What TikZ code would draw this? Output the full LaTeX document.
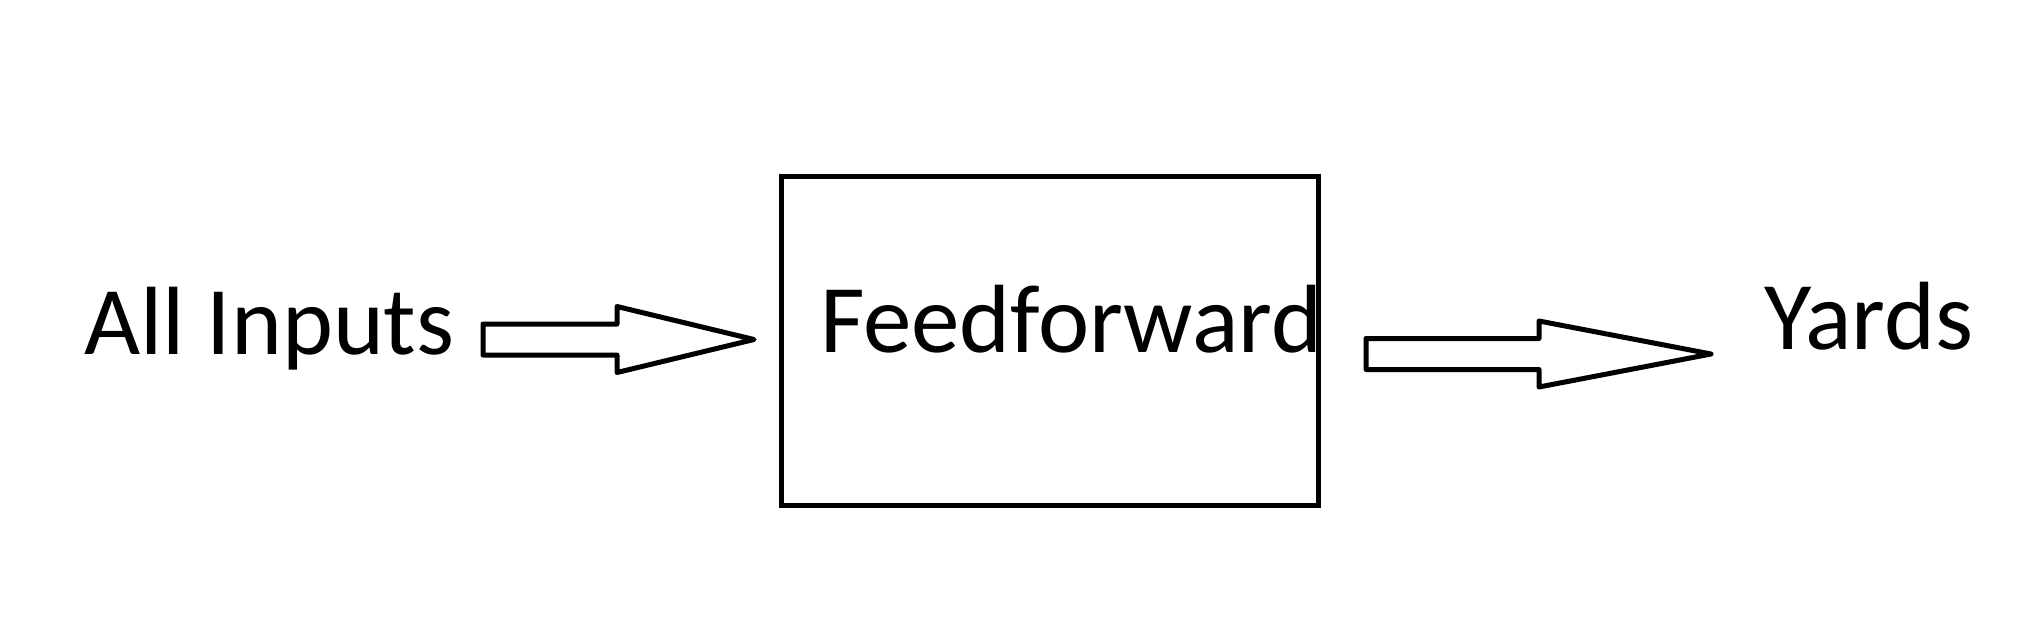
\documentclass[tikz,border=0pt]{standalone}
\usepackage{fontspec}
\setmainfont{Carlito}
\usetikzlibrary{calc}
\tikzset{
 lbl/.style={inner sep=0,anchor=base west,font=\fontsize{97pt}{100pt}\selectfont},
 ffbox/.style={draw,line width=5pt,minimum width=537pt,minimum height=329pt,inner sep=0},
 barrow/.style={line width=5pt,line join=round}
}
\newcommand{\blockarrow}[3]{%
\draw[barrow] ($(#1)+(0,-15.5)$) -- ($(#2)+(-#3,-15.5)$) -- ($(#2)+(-#3,-33)$) -- (#2)
 -- ($(#2)+(-#3,33)$) -- ($(#2)+(-#3,15.5)$) -- ($(#1)+(0,15.5)$) -- cycle;}
\begin{document}
\begin{tikzpicture}[
 x=1pt,y=-1pt
]
\useasboundingbox[fill=white] (0,0) rectangle (2033,618);
\node[lbl] (inp) at (84,354) {All Inputs};
\node[ffbox] (ff) at (1050,341) {};
\node[lbl] (fftext) at (820,352) {Feedforward};
\node[lbl] (yards) at (1764,349) {Yards};
\coordinate (a1s) at (483,339.5);
\coordinate (a1e) at (754,339.5);
\coordinate (a2s) at (1366,354);
\coordinate (a2e) at (1711,354);
\blockarrow{a1s}{a1e}{137}
\blockarrow{a2s}{a2e}{172}
\end{tikzpicture}
\end{document}
